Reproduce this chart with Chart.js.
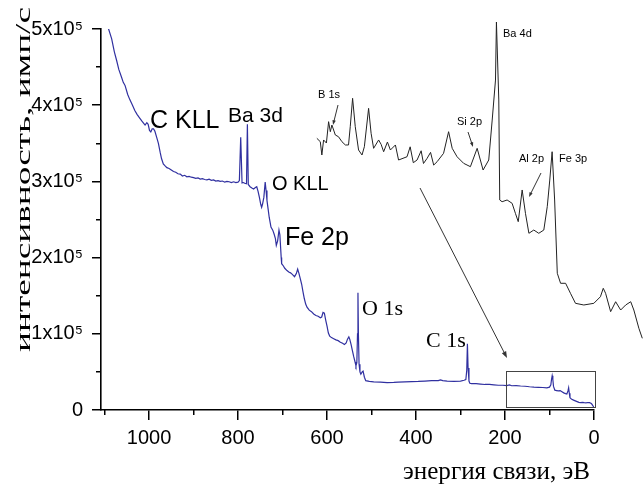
<!DOCTYPE html>
<html>
<head>
<meta charset="utf-8">
<script src="https://cdn.jsdelivr.net/npm/chart.js@4.4.1/dist/chart.umd.min.js"></script>
<style>
  html, body { margin: 0; padding: 0; background: #fff; }
</style>
</head>
<body>
<canvas id="spectrum" width="644" height="488"></canvas>
<script>
// survey spectrum, binding energy (eV) -> counts/s
const mainEnergy = [1092, 1084, 1078, 1073, 1068, 1062, 1058, 1054, 1048, 1043, 1038, 1032, 1027, 1021, 1016, 1012, 1009, 1005, 1002, 999, 996, 993, 990, 987, 983, 979, 975, 972, 968, 965, 960, 955, 950, 945, 940, 935, 930, 925, 920, 915, 910, 905, 900, 895, 890, 885, 880, 875, 870, 865, 860, 855, 850, 845, 840, 835, 830, 825, 820, 815, 810, 805, 800, 797, 794, 791, 788, 785, 781, 779, 777, 773, 768, 765, 761, 758, 755, 752, 749, 747, 745, 742, 739, 737, 735, 732, 730, 726, 722, 719, 716, 714, 711, 708, 706, 703, 702, 698, 695, 690, 686, 682, 678, 673, 669, 666, 663, 660, 657, 654, 651, 648, 645, 640, 635, 630, 625, 620, 615, 612, 609, 606, 603, 600, 597, 594, 590, 585, 580, 575, 570, 565, 561, 557, 554, 551, 549, 546, 543, 540, 537, 535, 533, 531.5, 530.5, 529.5, 528, 526, 524, 521, 519, 516, 513, 505, 495, 480, 465, 450, 440, 425, 410, 395, 380, 365, 350, 345, 340, 330, 315, 300, 292, 288, 286, 284.5, 283, 281, 279, 275, 265, 255, 245, 235, 225, 215, 205, 196, 190, 185, 175, 165, 155, 145, 135, 125, 115, 106, 100, 97, 95.5, 94, 92.5, 91, 88, 84, 80, 76, 72, 68, 64, 61, 58.5, 57, 55.5, 54, 50, 46, 42, 38, 34, 30, 26, 22, 18, 14, 10, 6, 4, 2, 0];
const mainCounts = [502000, 487000, 470000, 459000, 447000, 437000, 430000, 426000, 414000, 407000, 401000, 393000, 388000, 383000, 379000, 376000, 374000, 377000, 375000, 367000, 365000, 369000, 369000, 366000, 358000, 350000, 338000, 330000, 323000, 321000, 318000, 317000, 315000, 313000, 312000, 310000, 309500, 307000, 308000, 306000, 306500, 305500, 305000, 304000, 304500, 303000, 303500, 302500, 302000, 303000, 301500, 302000, 300500, 301000, 300000, 300500, 299000, 300000, 299500, 298500, 299500, 298500, 299000, 301000, 358000, 298000, 298500, 297500, 297000, 375000, 296000, 293000, 291000, 290000, 292000, 293000, 287000, 279000, 270000, 266000, 270000, 279000, 299000, 288000, 275000, 262000, 253000, 240000, 236000, 231000, 225000, 216000, 222000, 236000, 230000, 200000, 192000, 189000, 186000, 183000, 181000, 180000, 178000, 175000, 179000, 185000, 179000, 172000, 165000, 155000, 146000, 139000, 135000, 131000, 129000, 126000, 124000, 123000, 121000, 122000, 128000, 127000, 118000, 110000, 101000, 97000, 95000, 93500, 92000, 91000, 89000, 87500, 86000, 88000, 93000, 96000, 93000, 86000, 78000, 70000, 63000, 58000, 62000, 100000, 154000, 100000, 60000, 50000, 47000, 50000, 51000, 43000, 38500, 37500, 37000, 36500, 36000, 36200, 36500, 37000, 37200, 37500, 38000, 38500, 38500, 39500, 38500, 38000, 37500, 38000, 39000, 40000, 52000, 87000, 55000, 38000, 35000, 34500, 34500, 34000, 33500, 33500, 33000, 32500, 32500, 32000, 33000, 31800, 32000, 31500, 31200, 30500, 30000, 29800, 29500, 29000, 30000, 33000, 40000, 45000, 40000, 31000, 26000, 25500, 25000, 25500, 24000, 22500, 21500, 21000, 25000, 29000, 22000, 16000, 14000, 13000, 12000, 11000, 10000, 9600, 10000, 9600, 9400, 9800, 9600, 8500, 7000, 5000, 4000];

// magnified 200-0 eV part shown as the inset
const insetEnergy = [207.5, 205.3, 204.3, 203.2, 201.4, 200.0, 198.9, 197.9, 195.7, 193.7, 191.5, 189.3, 187.3, 186.2, 184.7, 183.0, 180.9, 178.7, 177.2, 174.5, 172.9, 171.3, 168.1, 166.5, 164.9, 162.5, 160.6, 157.4, 155.4, 150.0, 148.0, 146.0, 143.6, 141.0, 139.5, 137.2, 135.0, 133.0, 130.8, 126.7, 123.5, 121.2, 118.1, 113.9, 109.6, 105.3, 101.5, 97.9, 95.7, 93.6, 93.0, 91.5, 90.9, 89.4, 86.2, 83.0, 80.9, 79.1, 76.6, 74.5, 72.3, 69.2, 66.0, 62.8, 60.6, 59.0, 57.5, 55.9, 54.2, 52.1, 48.9, 45.8, 42.6, 37.3, 30.9, 26.7, 24.9, 23.4, 20.2, 17.0, 13.8, 10.6, 7.4, 5.4, 2.2, 0];
const insetCounts = [30370, 29940, 28270, 30160, 29780, 32460, 31200, 32040, 30785, 30570, 29940, 29530, 29530, 31830, 35400, 31830, 28900, 28270, 29310, 34140, 31000, 29110, 30160, 29600, 28680, 29900, 28900, 29530, 27640, 28050, 29300, 27300, 27640, 28800, 27200, 27850, 28600, 27000, 27430, 28480, 31200, 29110, 28050, 27220, 26800, 29110, 26380, 27640, 32670, 37700, 45000, 35190, 22610, 22390, 22610, 22190, 20930, 19880, 23870, 20930, 18420, 18830, 18420, 18830, 21770, 25120, 28680, 22610, 13390, 12130, 12130, 10870, 9610, 9400, 9610, 10440, 11500, 10870, 8560, 9810, 8770, 9400, 9810, 8770, 6470, 5210];

const xMajorTicks = [0, 200, 400, 600, 800, 1000];
const xMinorTicks = [100, 300, 500, 700, 900, 1100];
const xTickLabels = ['0', '200', '400', '600', '800', '1000'];
const yMajorTicks = [0, 100000, 200000, 300000, 400000, 500000];
const yMinorTicks = [50000, 150000, 250000, 350000, 450000];
const yTickLabels = ['0', '1x10⁵', '2x10⁵', '3x10⁵', '4x10⁵', '5x10⁵'];

const xTitle = 'энергия связи, эВ';
const yTitle = 'интенсивность, имп/с';

const SANS = "'Liberation Sans', Arial, sans-serif";
const SERIF = "'Liberation Serif', 'Times New Roman', serif";

const peakNotes = [
	{ text: 'C KLL', x: 150, y: 128, font: `25px ${SANS}` },
	{ text: 'Ba 3d', x: 228, y: 122, font: `21px ${SANS}` },
	{ text: 'O KLL', x: 272, y: 190, font: `20px ${SANS}` },
	{ text: 'Fe 2p', x: 285, y: 245, font: `25px ${SANS}` },
	{ text: 'O 1s', x: 362, y: 315, font: `22px ${SERIF}` },
	{ text: 'C 1s', x: 426, y: 347, font: `22px ${SERIF}` },
	{ text: 'B 1s', x: 318, y: 98, font: `11px ${SANS}` },
	{ text: 'Si 2p', x: 457, y: 125, font: `11px ${SANS}` },
	{ text: 'Ba 4d', x: 503, y: 37, font: `11px ${SANS}` },
	{ text: 'Al 2p', x: 519, y: 162, font: `11px ${SANS}` },
	{ text: 'Fe 3p', x: 559, y: 162, font: `11px ${SANS}` }
];

const pointers = [
	{ from: [338, 105], to: [333, 125], head: 5 },
	{ from: [468, 132], to: [473, 147], head: 5 },
	{ from: [541, 173], to: [529, 197], head: 5 },
	{ from: [420, 188], to: [507, 358], head: 7 }
];

const zoomBox = { from: 197, to: -3, low: 4300, high: 51600 };

const toPoints = (xs, ys) => xs.map((x, i) => ({ x: x, y: ys[i] }));
const setTicks = (values) => (scale) => { scale.ticks = values.map(v => ({ value: v })); };

const drawArrow = (ctx, p) => {
	const [x1, y1] = p.from;
	const [x2, y2] = p.to;
	const a = Math.atan2(y2 - y1, x2 - x1);
	ctx.beginPath();
	ctx.moveTo(x1, y1);
	ctx.lineTo(x2 - Math.cos(a) * p.head * 0.8, y2 - Math.sin(a) * p.head * 0.8);
	ctx.stroke();
	ctx.beginPath();
	ctx.moveTo(x2, y2);
	ctx.lineTo(x2 - p.head * Math.cos(a - 0.35), y2 - p.head * Math.sin(a - 0.35));
	ctx.lineTo(x2 - p.head * Math.cos(a + 0.35), y2 - p.head * Math.sin(a + 0.35));
	ctx.closePath();
	ctx.fill();
}

// draws text stretched along its baseline to a given length
const fitText = (ctx, text, length) => {
	const w = ctx.measureText(text).width;
	ctx.save();
	ctx.scale(length / w, 1);
	ctx.fillText(text, 0, 0);
	ctx.restore();
}

const extras = {
	id: 'extras',
	afterDatasetsDraw(chart) {
		const ctx = chart.ctx;
		const xs = chart.scales.x;
		const ys = chart.scales.y;
		ctx.save();

		ctx.strokeStyle = '#444';
		ctx.lineWidth = 1;
		const bx1 = xs.getPixelForValue(zoomBox.from);
		const bx2 = xs.getPixelForValue(zoomBox.to);
		const by1 = ys.getPixelForValue(zoomBox.high);
		const by2 = ys.getPixelForValue(zoomBox.low);
		ctx.strokeRect(Math.round(bx1) + 0.5, Math.round(by1) + 0.5, Math.round(bx2 - bx1), Math.round(by2 - by1));

		ctx.strokeStyle = '#333';
		ctx.fillStyle = '#333';
		pointers.forEach(p => drawArrow(ctx, p));

		ctx.fillStyle = '#000';
		ctx.textAlign = 'left';
		ctx.textBaseline = 'alphabetic';
		peakNotes.forEach(n => {
			ctx.font = n.font;
			ctx.fillText(n.text, n.x, n.y);
		});

		ctx.font = `25px ${SERIF}`;
		ctx.save();
		ctx.translate(403, 479);
		fitText(ctx, xTitle, 187);
		ctx.restore();

		ctx.font = `22px ${SERIF}`;
		ctx.save();
		ctx.translate(30, 352);
		ctx.rotate(-Math.PI / 2);
		fitText(ctx, yTitle, 345);
		ctx.restore();

		ctx.restore();
	}
};

const tickFont = { family: SANS, size: 20 };

new Chart(document.getElementById('spectrum'), {
	type: 'line',
	data: {
		datasets: [{
			data: toPoints(mainEnergy, mainCounts),
			xAxisID: 'x',
			yAxisID: 'y',
			borderColor: '#3030a0',
			borderWidth: 1.2,
			pointRadius: 0,
			tension: 0,
			fill: false
		}, {
			data: toPoints(insetEnergy, insetCounts),
			xAxisID: 'x2',
			yAxisID: 'y2',
			borderColor: '#222',
			borderWidth: 1,
			pointRadius: 0,
			tension: 0,
			fill: false,
			clip: false
		}]
	},
	options: {
		responsive: false,
		animation: false,
		devicePixelRatio: 1,
		layout: { padding: { top: 29, right: 50, left: 0, bottom: 0 } },
		plugins: { legend: { display: false }, tooltip: { enabled: false } },
		scales: {
			x: {
				type: 'linear', position: 'bottom', reverse: true, min: 0, max: 1108, weight: 1,
				afterBuildTicks: setTicks(xMajorTicks),
				afterFit: (s) => { s.height = 78; },
				grid: { drawOnChartArea: false, tickLength: 10, color: '#000', lineWidth: 1.5 },
				border: { color: '#000', width: 1.6 },
				ticks: { font: tickFont, color: '#000', padding: 6, maxRotation: 0, autoSkip: false,
					callback: (v) => xTickLabels[xMajorTicks.indexOf(v)] }
			},
			xMinor: {
				type: 'linear', position: 'bottom', reverse: true, min: 0, max: 1108, weight: 0,
				afterBuildTicks: setTicks(xMinorTicks),
				afterFit: (s) => { s.height = 0; },
				grid: { drawOnChartArea: false, tickLength: 5, color: '#000', lineWidth: 1.5 },
				border: { display: false },
				ticks: { display: false }
			},
			y: {
				type: 'linear', position: 'left', min: 0, max: 500000, weight: 1,
				afterBuildTicks: setTicks(yMajorTicks),
				afterFit: (s) => { s.width = 101; },
				grid: { drawOnChartArea: false, tickLength: 9, color: '#000', lineWidth: 1.5 },
				border: { color: '#000', width: 1.6 },
				ticks: { font: tickFont, color: '#000', padding: 9,
					callback: (v) => yTickLabels[yMajorTicks.indexOf(v)] }
			},
			yMinor: {
				type: 'linear', position: 'left', min: 0, max: 500000, weight: 0,
				afterBuildTicks: setTicks(yMinorTicks),
				afterFit: (s) => { s.width = 0; },
				grid: { drawOnChartArea: false, tickLength: 5, color: '#000', lineWidth: 1.5 },
				border: { display: false },
				ticks: { display: false }
			},
			x2: { type: 'linear', display: false, reverse: true, min: 30.8, max: 345.1 },
			y2: { type: 'linear', display: false, min: -3810, max: 44120 }
		}
	},
	plugins: [extras]
});
</script>
</body>
</html>
